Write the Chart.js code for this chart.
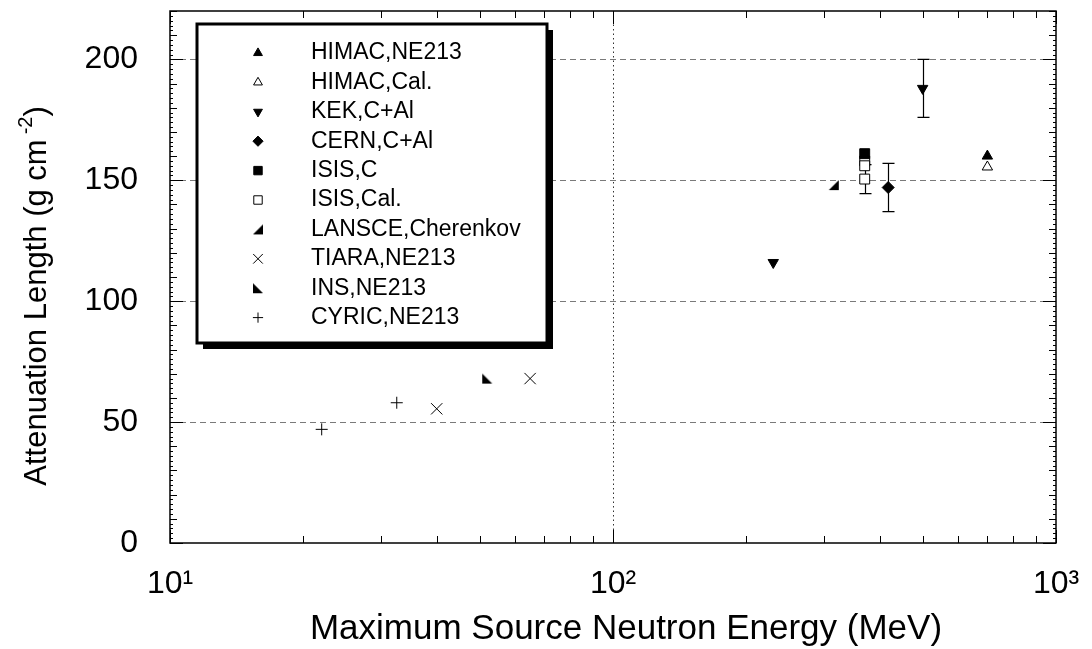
<!DOCTYPE html>
<html>
<head>
<meta charset="utf-8">
<script src="https://cdn.jsdelivr.net/npm/chart.js@4.4.1/dist/chart.umd.min.js"></script>
<style>
  body { margin: 0; background: #fff; }
  #wrap { width: 1092px; height: 649px; }
</style>
</head>
<body>
<div id="wrap"><canvas id="attenChart"></canvas></div>
<script>
// values: energy in MeV, attenuation length in g cm-2
var himacNeE = [700];
var himacNeL = [160];
var himacCalE = [700];
var himacCalL = [155.5];
var kekE = [230, 500];
var kekL = [116, 188];
var kekLo = [null, 176];
var kekHi = [null, 200];
var cernE = [418];
var cernL = [147];
var cernLo = [137];
var cernHi = [157];
var isisCE = [370];
var isisCL = [161];
var isisCalE = [370, 370, 370];
var isisCalL = [158, 156, 150.5];
var isisCalLo = [null, null, 144.5];
var isisCalHi = [null, null, 156.5];
var lansceE = [315];
var lansceL = [148];
var tiaraE = [40, 65];
var tiaraL = [55.5, 68];
var insE = [52];
var insL = [68];
var cyricE = [22, 32.5];
var cyricL = [47, 58];

var xTicks = [10, 100, 1000];
var xTickLabels = ['10\u00b9', '10\u00b2', '10\u00b3'];
var yTicks = [0, 50, 100, 150, 200];
var gridY = [50, 100, 150, 200];
var gridX = [100];

var xTitle = 'Maximum Source Neutron Energy (MeV)';
var yTitle = ['Attenuation Length (g cm', '-2', ')'];

var FONT = '"Liberation Sans", Arial, Helvetica, sans-serif';

// small right-angle triangles used by LANSCE and INS
function halfTriangle(corner) {
    var c = document.createElement('canvas');
    c.width = 12;
    c.height = 12;
    var g = c.getContext('2d');
    g.fillStyle = '#000';
    g.beginPath();
    if (corner === 'right') {
        g.moveTo(11, 1); g.lineTo(11, 11); g.lineTo(1, 11);
    } else {
        g.moveTo(1, 1); g.lineTo(1, 11); g.lineTo(11, 11);
    }
    g.closePath();
    g.fill();
    return c;
}

function pts(xs, ys) {
    return xs.map(function (x, i) { return { x: x, y: ys[i] }; });
}

function series(label, xs, ys, style, radius, filled, extra) {
    var ds = {
        label: label,
        data: pts(xs, ys),
        pointStyle: style,
        pointRadius: radius,
        pointHoverRadius: radius,
        pointRotation: 0,
        backgroundColor: filled ? '#000' : '#fff',
        borderColor: '#000',
        borderWidth: 1,
        showLine: false
    };
    for (var k in extra || {}) ds[k] = extra[k];
    return ds;
}

var datasets = [
    series('HIMAC,NE213', himacNeE, himacNeL, 'triangle', 6, true),
    series('HIMAC,Cal.', himacCalE, himacCalL, 'triangle', 6, false),
    series('KEK,C+Al', kekE, kekL, 'triangle', 6, true, { pointRotation: 180, errLo: kekLo, errHi: kekHi }),
    series('CERN,C+Al', cernE, cernL, 'rectRot', 6, true, { errLo: cernLo, errHi: cernHi }),
    series('ISIS,C', isisCE, isisCL, 'rect', 7, true),
    series('ISIS,Cal.', isisCalE, isisCalL, 'rect', 7, false, { errLo: isisCalLo, errHi: isisCalHi }),
    series('LANSCE,Cherenkov', lansceE, lansceL, halfTriangle('right'), 6, true),
    series('TIARA,NE213', tiaraE, tiaraL, 'crossRot', 8, false),
    series('INS,NE213', insE, insL, halfTriangle('left'), 6, true),
    series('CYRIC,NE213', cyricE, cyricL, 'cross', 6, false)
];

// grid lines, inward ticks on all sides and the frame
var frame = {
    id: 'frame',
    beforeDatasetsDraw: function (chart) {
        var ctx = chart.ctx, a = chart.chartArea;
        var xs = chart.scales.x, ys = chart.scales.y;
        ctx.save();
        ctx.lineWidth = 1.2;
        ctx.strokeStyle = '#7a7a7a';
        ctx.setLineDash([6, 4]);
        gridY.forEach(function (v) {
            var py = Math.round(ys.getPixelForValue(v)) + 0.5;
            ctx.beginPath(); ctx.moveTo(a.left, py); ctx.lineTo(a.right, py); ctx.stroke();
        });
        ctx.strokeStyle = '#333';
        ctx.lineWidth = 1;
        ctx.setLineDash([1.5, 3]);
        gridX.forEach(function (v) {
            var px = Math.round(xs.getPixelForValue(v)) + 0.5;
            ctx.beginPath(); ctx.moveTo(px, a.top); ctx.lineTo(px, a.bottom); ctx.stroke();
        });
        ctx.setLineDash([]);

        ctx.strokeStyle = '#000';
        ctx.lineWidth = 1;
        for (var v = ys.min; v <= ys.max; v += 2) {
            var len = v % 50 === 0 ? 13 : (v % 10 === 0 ? 7 : 3);
            var py = Math.round(ys.getPixelForValue(v)) + 0.5;
            ctx.beginPath();
            ctx.moveTo(a.left, py); ctx.lineTo(a.left + len, py);
            ctx.moveTo(a.right, py); ctx.lineTo(a.right - len, py);
            ctx.stroke();
        }
        for (var d = 10; d <= 1000; d *= 10) {
            for (var m = 1; m <= 9; m++) {
                var e = d * m;
                if (e > xs.max) break;
                var l = m === 1 ? 13 : 7;
                var px = Math.round(xs.getPixelForValue(e)) + 0.5;
                ctx.beginPath();
                ctx.moveTo(px, a.bottom); ctx.lineTo(px, a.bottom - l);
                ctx.moveTo(px, a.top); ctx.lineTo(px, a.top + l);
                ctx.stroke();
            }
        }
        ctx.lineWidth = 1.5;
        ctx.strokeRect(a.left, a.top, a.right - a.left, a.bottom - a.top);
        ctx.restore();
    }
};

// vertical error bars with caps
var errorBars = {
    id: 'errorBars',
    beforeDatasetsDraw: function (chart) {
        var ctx = chart.ctx;
        var xs = chart.scales.x, ys = chart.scales.y;
        ctx.save();
        ctx.strokeStyle = '#000';
        ctx.lineWidth = 1.2;
        chart.data.datasets.forEach(function (ds) {
            if (!ds.errLo) return;
            ds.data.forEach(function (p, i) {
                if (ds.errLo[i] == null) return;
                var px = Math.round(xs.getPixelForValue(p.x)) + 0.5;
                var lo = ys.getPixelForValue(ds.errLo[i]);
                var hi = ys.getPixelForValue(ds.errHi[i]);
                ctx.beginPath();
                ctx.moveTo(px, lo); ctx.lineTo(px, hi);
                ctx.moveTo(px - 6, lo); ctx.lineTo(px + 6, lo);
                ctx.moveTo(px - 6, hi); ctx.lineTo(px + 6, hi);
                ctx.stroke();
            });
        });
        ctx.restore();
    }
};

// axis titles, the y one with a raised exponent
var axisTitles = {
    id: 'axisTitles',
    afterDraw: function (chart) {
        var ctx = chart.ctx;
        ctx.save();
        ctx.fillStyle = '#000';
        ctx.textBaseline = 'alphabetic';
        ctx.font = '35px ' + FONT;
        ctx.textAlign = 'center';
        ctx.fillText(xTitle, 626, 639);

        ctx.translate(46, 296);
        ctx.rotate(-Math.PI / 2);
        ctx.textAlign = 'left';
        var big = '31px ' + FONT, small = '20px ' + FONT;
        ctx.font = big;
        var w0 = ctx.measureText(yTitle[0]).width;
        var w2 = ctx.measureText(yTitle[2]).width;
        ctx.font = small;
        var w1 = ctx.measureText(yTitle[1]).width + 5;
        var x0 = -(w0 + w1 + w2) / 2;
        ctx.font = big;
        ctx.fillText(yTitle[0], x0, 0);
        ctx.font = small;
        ctx.fillText(yTitle[1], x0 + w0 + 5, -14);
        ctx.font = big;
        ctx.fillText(yTitle[2], x0 + w0 + w1, 0);
        ctx.restore();
    }
};

// boxed legend with a drop shadow inside the plot
var boxLegend = {
    id: 'boxLegend',
    afterDraw: function (chart) {
        var ctx = chart.ctx, a = chart.chartArea;
        var bx = a.left + 27, by = a.top + 13, bw = 350, bh = 319;
        ctx.save();
        ctx.fillStyle = '#000';
        ctx.fillRect(bx + 6, by + 6, bw, bh);
        ctx.fillStyle = '#fff';
        ctx.fillRect(bx, by, bw, bh);
        ctx.lineWidth = 3;
        ctx.strokeStyle = '#000';
        ctx.strokeRect(bx, by, bw, bh);
        ctx.font = '23px ' + FONT;
        ctx.textBaseline = 'middle';
        chart.data.datasets.forEach(function (ds, i) {
            var cy = by + 29 + i * 29.4;
            var mx = bx + 61;
            ctx.fillStyle = ds.backgroundColor;
            ctx.strokeStyle = ds.borderColor;
            ctx.lineWidth = 1;
            Chart.helpers.drawPoint(ctx, {
                pointStyle: ds.pointStyle,
                rotation: ds.pointRotation,
                radius: ds.pointRadius * 0.85,
                borderWidth: 1
            }, mx, cy);
            ctx.fillStyle = '#000';
            ctx.fillText(ds.label, bx + 114, cy);
        });
        ctx.restore();
    }
};

new Chart(document.getElementById('attenChart'), {
    type: 'scatter',
    data: { datasets: datasets },
    plugins: [frame, errorBars, axisTitles, boxLegend],
    options: {
        responsive: true,
        maintainAspectRatio: false,
        animation: false,
        events: [],
        layout: { padding: { left: 0, right: 36, top: 11, bottom: 0 } },
        plugins: {
            legend: { display: false },
            tooltip: { enabled: false }
        },
        scales: {
            x: {
                type: 'logarithmic',
                min: 10,
                max: 1000,
                afterBuildTicks: function (s) {
                    s.ticks = xTicks.map(function (v) { return { value: v }; });
                },
                afterFit: function (s) {
                    s.height = 106;
                    s.paddingLeft = 0;
                    s.paddingRight = 0;
                },
                grid: { display: false, drawTicks: false },
                border: { display: false },
                ticks: {
                    autoSkip: false,
                    maxRotation: 0,
                    padding: 22,
                    color: '#000',
                    font: { size: 32, family: FONT },
                    callback: function (v) {
                        var i = xTicks.indexOf(v);
                        return i >= 0 ? xTickLabels[i] : '';
                    }
                }
            },
            y: {
                min: 0,
                max: 220,
                afterBuildTicks: function (s) {
                    s.ticks = yTicks.map(function (v) { return { value: v }; });
                },
                afterFit: function (s) {
                    s.width = 170;
                    s.paddingTop = 0;
                    s.paddingBottom = 0;
                },
                grid: { display: false, drawTicks: false },
                border: { display: false },
                ticks: {
                    padding: 32,
                    color: '#000',
                    font: { size: 32, family: FONT }
                }
            }
        }
    }
});
</script>
</body>
</html>
